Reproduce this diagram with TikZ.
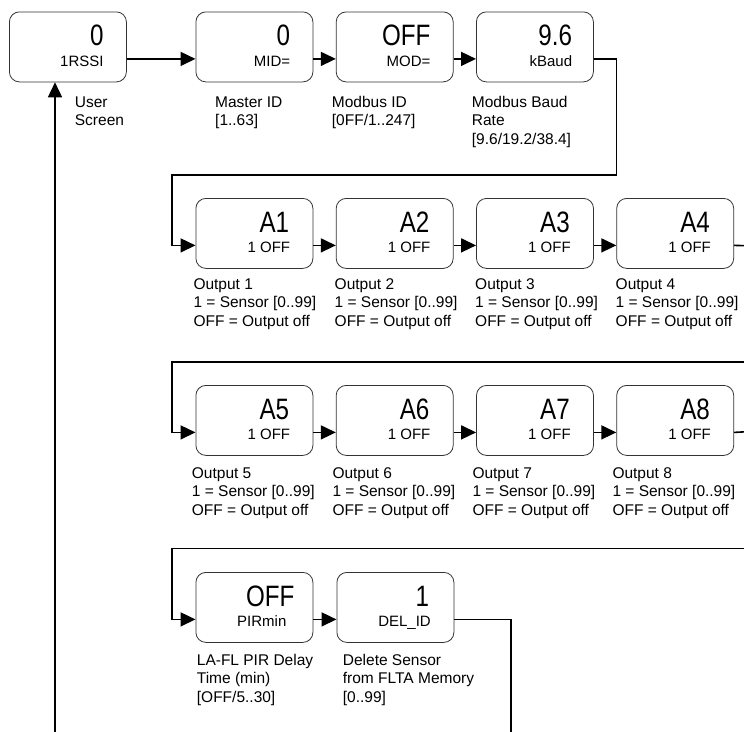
\documentclass[tikz,border=0pt]{standalone}
\usepackage{fontspec}
\setmainfont{Liberation Sans}
\usetikzlibrary{arrows.meta,calc}
\tikzset{
  stbox/.style={draw=black!80, line width=0.8pt, rounded corners=10pt,
    minimum width=117pt, minimum height=70pt, inner sep=0pt, anchor=north west},
  bigtxt/.style={inner sep=0pt, anchor=base east, font=\fontsize{29.5}{30}\selectfont},
  smalltxt/.style={inner sep=0pt, anchor=base east, font=\fontsize{15}{18}\selectfont},
  lbl/.style={inner sep=0pt, anchor=base west, font=\fontsize{15.5}{18.5}\selectfont},
  conn/.style={line width=1.6pt, -{Triangle[length=15pt,width=14pt]}},
  wire/.style={line width=1.6pt},
}
% name, x, y(top), big, small, big offset, small offset
\newcommand{\stbox}[7]{%
  \node[stbox] (#1) at (#2,#3) {};
  \node[bigtxt] (#1v) at ([xshift=-#6pt,yshift=-34pt]#1.north east) {\scalebox{0.82}[1]{#4}};
  \node[smalltxt] (#1l) at ([xshift=-#7pt,yshift=-54.5pt]#1.north east) {#5};
}
\newcommand{\lbltext}[1]{\begin{tabular}[t]{@{}l@{}}#1\end{tabular}}
\begin{document}
\begin{tikzpicture}[x=1pt,y=-1pt]
\useasboundingbox (0,0) rectangle (744,731);
\fill[white] (0,0) rectangle (744,731);

% row 1
\stbox{b1}{9}{11.5}{0}{1RSSI}{23}{23}
\stbox{b2}{195.5}{11.5}{0}{MID=}{23}{23}
\stbox{b3}{335.8}{11.5}{OFF}{MOD=}{23}{23}
\stbox{b4}{476}{11.5}{9.6}{kBaud}{21.5}{21.5}

% row 2
\stbox{a1}{195.5}{198}{A1}{1 OFF}{24}{23}
\stbox{a2}{335.8}{198}{A2}{1 OFF}{24}{23}
\stbox{a3}{476.1}{198}{A3}{1 OFF}{24}{23}
\stbox{a4}{616.3}{198}{A4}{1 OFF}{24}{23}

% row 3
\stbox{a5}{195.5}{385}{A5}{1 OFF}{24}{23}
\stbox{a6}{335.8}{385}{A6}{1 OFF}{24}{23}
\stbox{a7}{476.1}{385}{A7}{1 OFF}{24}{23}
\stbox{a8}{616.3}{385}{A8}{1 OFF}{24}{23}

% row 4
\stbox{d1}{195.5}{572}{OFF}{PIRmin}{18.7}{26.7}
\stbox{d2}{336.5}{572}{1}{DEL\_ID}{25}{23.3}

% labels
\node[lbl] (l1) at (74.7,107) {\lbltext{User\\Screen}};
\node[lbl] (l2) at (215,107) {\lbltext{Master ID\\{}[1..63]}};
\node[lbl] (l3) at (331.7,107) {\lbltext{Modbus ID\\{}[0FF/1..247]}};
\node[lbl] (l4) at (471.7,107) {\lbltext{Modbus Baud\\Rate\\{}[9.6/19.2/38.4]}};

\node[lbl] (o1) at (193.3,289.3) {\lbltext{Output 1\\1 = Sensor [0..99]\\OFF = Output off}};
\node[lbl] (o2) at (334.5,289.3) {\lbltext{Output 2\\1 = Sensor [0..99]\\OFF = Output off}};
\node[lbl] (o3) at (475,289.3) {\lbltext{Output 3\\1 = Sensor [0..99]\\OFF = Output off}};
\node[lbl] (o4) at (615.5,289.3) {\lbltext{Output 4\\1 = Sensor [0..99]\\OFF = Output off}};

\node[lbl] (o5) at (191.7,478.3) {\lbltext{Output 5\\1 = Sensor [0..99]\\OFF = Output off}};
\node[lbl] (o6) at (332.3,478.3) {\lbltext{Output 6\\1 = Sensor [0..99]\\OFF = Output off}};
\node[lbl] (o7) at (472.3,478.3) {\lbltext{Output 7\\1 = Sensor [0..99]\\OFF = Output off}};
\node[lbl] (o8) at (612.3,478.3) {\lbltext{Output 8\\1 = Sensor [0..99]\\OFF = Output off}};

\node[lbl] (p1) at (196.7,665) {\lbltext{LA-FL PIR Delay\\Time (min)\\{}[OFF/5..30]}};
\node[lbl] (p2) at (342.7,665) {\lbltext{Delete Sensor\\from FLTA Memory\\{}[0..99]}};

% turn points and free ends
\coordinate (t1) at (616.3,175);
\coordinate (t2) at (172,175);
\coordinate (x2) at (760,246);
\coordinate (x3) at (760,362);
\coordinate (t3) at (172,362);
\coordinate (x4) at (760,431);
\coordinate (x5) at (760,548.5);
\coordinate (t5) at (172,548.5);
\coordinate (x6) at (511,745);
\coordinate (x7) at (55,745);

% row 1 connectors
\draw[conn] ([yshift=-12pt]b1.east) -- ([yshift=-12pt]b2.west);
\draw[conn] ([yshift=-12pt]b2.east) -- ([yshift=-12pt]b3.west);
\draw[conn] ([yshift=-12pt]b3.east) -- ([yshift=-12pt]b4.west);
\draw[conn] ([yshift=-12pt]b4.east) -| (t1) -- (t2) |- ([yshift=-12pt]a1.west);

% row 2
\draw[conn] ([yshift=-12pt]a1.east) -- ([yshift=-12pt]a2.west);
\draw[conn] ([yshift=-12pt]a2.east) -- ([yshift=-12pt]a3.west);
\draw[conn] ([yshift=-12pt]a3.east) -- ([yshift=-12pt]a4.west);
\draw[wire] ([yshift=-12pt]a4.east) -- (x2);

% row 3
\draw[conn] (x3) -- (t3) |- ([yshift=-12pt]a5.west);
\draw[conn] ([yshift=-12pt]a5.east) -- ([yshift=-12pt]a6.west);
\draw[conn] ([yshift=-12pt]a6.east) -- ([yshift=-12pt]a7.west);
\draw[conn] ([yshift=-12pt]a7.east) -- ([yshift=-12pt]a8.west);
\draw[wire] ([yshift=-12pt]a8.east) -- (x4);

% row 4
\draw[conn] (x5) -- (t5) |- ([yshift=-12pt]d1.west);
\draw[conn] ([yshift=-12pt]d1.east) -- ([yshift=-12pt]d2.west);
\draw[wire] ([yshift=-12pt]d2.east) -| (x6);

% return to user screen
\draw[conn] (x7) -- (b1.south -| x7);
\end{tikzpicture}
\end{document}
